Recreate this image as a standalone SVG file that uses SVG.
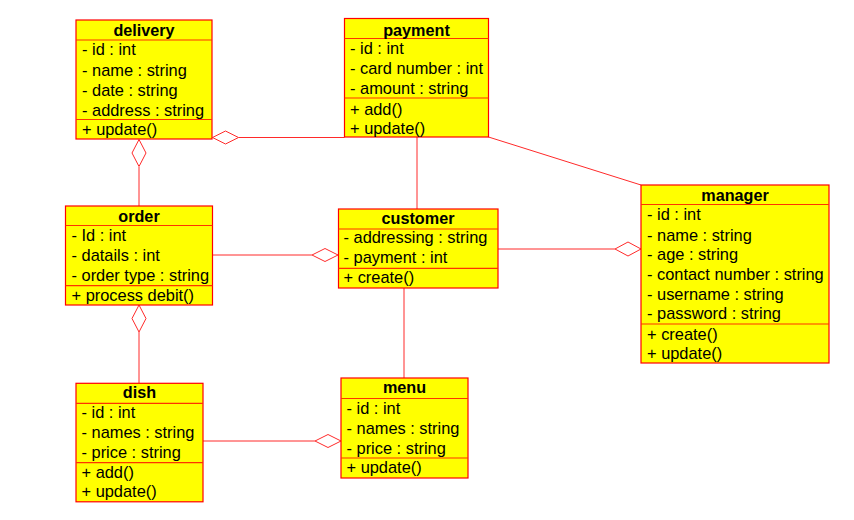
<svg xmlns="http://www.w3.org/2000/svg" width="854" height="520" viewBox="0 0 854 520">
  <style>
    .box { fill: #ffff00; stroke: #ff0000; stroke-width: 1.2; }
    .sep { stroke: #ff3300; stroke-width: 1.2; }
    .title { font-family: "Liberation Sans", Arial, sans-serif; font-size: 16.2px; font-weight: bold; text-anchor: middle; fill: #000; }
    .item { font-family: "Liberation Sans", Arial, sans-serif; font-size: 16.4px; fill: #000; }
    .link { stroke: #ff2a2a; stroke-width: 1; fill: none; }
    .diamond { stroke: #ff2a2a; stroke-width: 1; fill: #ffffff; }
  </style>
  <rect width="854" height="520" fill="#ffffff"/>

  <!-- associations -->
  <g id="connectors">
    <!-- delivery <>- order -->
    <line class="link" x1="139" y1="167" x2="139" y2="206"/>
    <polygon class="diamond" points="139,139.5 146,153 139,166.5 132,153"/>
    <!-- delivery <>- payment -->
    <line class="link" x1="238.5" y1="137.5" x2="344.5" y2="137.5"/>
    <polygon class="diamond" points="212.5,137.5 225.5,131 238.5,137.5 225.5,144"/>
    <!-- payment - customer -->
    <line class="link" x1="417" y1="137" x2="417" y2="209"/>
    <!-- payment - manager -->
    <line class="link" x1="488.5" y1="137" x2="641" y2="185"/>
    <!-- order -<> customer -->
    <line class="link" x1="212.5" y1="255" x2="312" y2="255"/>
    <polygon class="diamond" points="312,255 325,248.5 338,255 325,261.5"/>
    <!-- customer -<> manager -->
    <line class="link" x1="498" y1="249" x2="615" y2="249"/>
    <polygon class="diamond" points="615,249 628,242 641,249 628,256"/>
    <!-- order <>- dish -->
    <line class="link" x1="139" y1="332" x2="139" y2="383"/>
    <polygon class="diamond" points="139,305 146,318.5 139,332 132,318.5"/>
    <!-- customer - menu -->
    <line class="link" x1="404" y1="288" x2="404" y2="378"/>
    <!-- dish -<> menu -->
    <line class="link" x1="203" y1="441" x2="315" y2="441"/>
    <polygon class="diamond" points="315,441 328,434.5 341,441 328,447.5"/>
  </g>

  <g id="delivery">
    <rect class="box" x="76" y="20" width="136" height="119"/>
    <line class="sep" x1="76" y1="40" x2="212" y2="40"/>
    <line class="sep" x1="76" y1="119.5" x2="212" y2="119.5"/>
    <text class="title" x="144" y="36">delivery</text>
    <text class="item" x="82" y="55.3">- id : int</text>
    <text class="item" x="82" y="75.6">- name : string</text>
    <text class="item" x="82" y="95.8">- date : string</text>
    <text class="item" x="82" y="116">- address : string</text>
    <text class="item" x="82" y="135">+ update()</text>
  </g>

  <g id="payment">
    <rect class="box" x="344.5" y="18.5" width="144" height="118.5"/>
    <line class="sep" x1="344.5" y1="38.5" x2="488.5" y2="38.5"/>
    <line class="sep" x1="344.5" y1="98" x2="488.5" y2="98"/>
    <text class="title" x="416.5" y="35.5">payment</text>
    <text class="item" x="350" y="54.3">- id : int</text>
    <text class="item" x="350" y="74.3">- card number : int</text>
    <text class="item" x="350" y="94.3">- amount : string</text>
    <text class="item" x="350" y="115">+ add()</text>
    <text class="item" x="350" y="134.3">+ update()</text>
  </g>

  <g id="order">
    <rect class="box" x="65.5" y="206" width="147" height="99"/>
    <line class="sep" x1="65.5" y1="225.5" x2="212.5" y2="225.5"/>
    <line class="sep" x1="65.5" y1="285.7" x2="212.5" y2="285.7"/>
    <text class="title" x="139" y="221.7">order</text>
    <text class="item" x="71.5" y="240.7">- Id : int</text>
    <text class="item" x="71.5" y="261">- datails : int</text>
    <text class="item" x="71.5" y="281">- order type : string</text>
    <text class="item" x="71.5" y="300.7">+ process debit()</text>
  </g>

  <g id="customer">
    <rect class="box" x="338.5" y="209" width="159.5" height="79"/>
    <line class="sep" x1="338.5" y1="229" x2="498" y2="229"/>
    <line class="sep" x1="338.5" y1="268.3" x2="498" y2="268.3"/>
    <text class="title" x="418" y="224.3">customer</text>
    <text class="item" x="343.5" y="243.3">- addressing : string</text>
    <text class="item" x="343.5" y="263.3">- payment : int</text>
    <text class="item" x="343.5" y="283.3">+ create()</text>
  </g>

  <g id="manager">
    <rect class="box" x="641" y="185" width="188" height="178"/>
    <line class="sep" x1="641" y1="204.5" x2="829" y2="204.5"/>
    <line class="sep" x1="641" y1="324" x2="829" y2="324"/>
    <text class="title" x="735" y="200.7">manager</text>
    <text class="item" x="647" y="220">- id : int</text>
    <text class="item" x="647" y="240.7">- name : string</text>
    <text class="item" x="647" y="260.2">- age : string</text>
    <text class="item" x="647" y="280">- contact number : string</text>
    <text class="item" x="647" y="299.8">- username : string</text>
    <text class="item" x="647" y="319.4">- password : string</text>
    <text class="item" x="647" y="340">+ create()</text>
    <text class="item" x="647" y="359.3">+ update()</text>
  </g>

  <g id="dish">
    <rect class="box" x="76" y="383.3" width="127" height="118.5"/>
    <line class="sep" x1="76" y1="403.3" x2="203" y2="403.3"/>
    <line class="sep" x1="76" y1="462.7" x2="203" y2="462.7"/>
    <text class="title" x="139.5" y="398.3">dish</text>
    <text class="item" x="81.5" y="418.3">- id : int</text>
    <text class="item" x="81.5" y="438.3">- names : string</text>
    <text class="item" x="81.5" y="457.7">- price : string</text>
    <text class="item" x="81.5" y="477.7">+ add()</text>
    <text class="item" x="81.5" y="496.7">+ update()</text>
  </g>

  <g id="menu">
    <rect class="box" x="341" y="378" width="127" height="100"/>
    <line class="sep" x1="341" y1="398.5" x2="468" y2="398.5"/>
    <line class="sep" x1="341" y1="458" x2="468" y2="458"/>
    <text class="title" x="404.5" y="393">menu</text>
    <text class="item" x="346.5" y="413.5">- id : int</text>
    <text class="item" x="346.5" y="433.7">- names : string</text>
    <text class="item" x="346.5" y="453.7">- price : string</text>
    <text class="item" x="346.5" y="472.7">+ update()</text>
  </g>
</svg>
